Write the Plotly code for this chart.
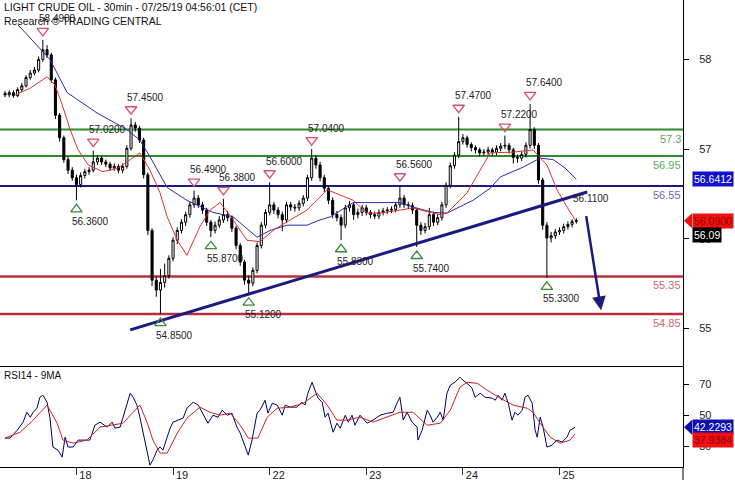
import plotly.graph_objects as go

# ---------------- data ----------------
title_line1 = "LIGHT CRUDE OIL - 30min - 07/25/19 04:56:01 (CET)"
title_line2 = "Research © TRADING CENTRAL"
rsi_title = "RSI14 - 9MA"

day_labels = ["18", "19", "22", "23", "24", "25"]
day_start_bar = [17, 40, 63, 86, 109, 132]

bar_open = [57.78, 57.76, 57.79, 57.75, 57.83, 57.88, 57.99, 58.05, 58.09, 58.23,
            58.36, 58.29, 57.96, 57.49, 57.19, 56.90, 56.76, 56.66, 56.57, 56.69,
            56.74, 56.76, 56.87, 56.92, 56.87, 56.84, 56.79, 56.81, 56.76, 56.81,
            57.05, 57.36, 57.32, 57.16, 56.70, 55.96, 55.30, 55.17, 55.27, 55.36,
            55.59, 55.83, 55.96, 56.07, 56.17, 56.30, 56.39, 56.30, 56.23, 56.07,
            55.96, 56.03, 56.10, 56.17, 56.13, 55.99, 55.76, 55.54, 55.30, 55.26,
            55.43, 55.76, 56.03, 56.20, 56.30, 56.23, 56.17, 56.10, 56.30, 56.27,
            56.26, 56.32, 56.39, 56.66, 56.92, 56.83, 56.66, 56.52, 56.36, 56.17,
            56.13, 56.03, 56.26, 56.30, 56.17, 56.20, 56.26, 56.20, 56.17, 56.15,
            56.20, 56.22, 56.23, 56.24, 56.30, 56.39, 56.30, 56.29, 56.23, 56.03,
            55.96, 56.01, 56.17, 56.07, 56.13, 56.30, 56.56, 56.82, 56.96, 57.14,
            57.19, 57.10, 57.06, 57.03, 56.99, 57.00, 57.03, 57.00, 57.05, 57.08,
            57.09, 57.03, 56.93, 56.92, 56.97, 57.09, 57.30, 57.09, 56.63, 56.03,
            55.86, 55.89, 55.94, 55.96, 56.01, 56.04, 56.08]
bar_high = [57.81, 57.82, 57.82, 57.86, 57.92, 58.02, 58.09, 58.13, 58.27, 58.49,
            58.42, 58.32, 57.99, 57.52, 57.22, 56.94, 56.80, 56.70, 56.73, 56.78,
            56.80, 57.02, 56.96, 56.95, 56.90, 56.87, 56.85, 56.84, 56.85, 57.09,
            57.45, 57.40, 57.35, 57.19, 56.73, 55.99, 55.35, 55.45, 55.52, 55.63,
            55.87, 56.00, 56.11, 56.21, 56.34, 56.49, 56.43, 56.34, 56.26, 56.10,
            56.08, 56.15, 56.38, 56.22, 56.16, 56.02, 55.79, 55.57, 55.36, 55.47,
            55.80, 56.07, 56.24, 56.60, 56.34, 56.27, 56.21, 56.34, 56.34, 56.31,
            56.36, 56.43, 56.70, 57.04, 56.96, 56.87, 56.70, 56.56, 56.40, 56.22,
            56.17, 56.30, 56.35, 56.34, 56.25, 56.30, 56.30, 56.23, 56.21, 56.24,
            56.26, 56.27, 56.28, 56.34, 56.56, 56.43, 56.34, 56.33, 56.26, 56.07,
            56.06, 56.26, 56.21, 56.18, 56.34, 56.60, 56.86, 57.00, 57.47, 57.24,
            57.22, 57.13, 57.09, 57.06, 57.04, 57.07, 57.06, 57.09, 57.12, 57.22,
            57.12, 57.06, 56.97, 57.01, 57.13, 57.64, 57.33, 57.12, 56.66, 56.07,
            55.94, 55.98, 56.00, 56.05, 56.08, 56.11, 56.12]
bar_low = [57.73, 57.73, 57.72, 57.73, 57.80, 57.86, 57.96, 58.02, 58.06, 58.20,
           58.25, 57.92, 57.44, 57.14, 56.86, 56.71, 56.62, 56.36, 56.53, 56.65,
           56.70, 56.73, 56.83, 56.83, 56.80, 56.75, 56.75, 56.72, 56.72, 56.78,
           57.02, 57.27, 57.12, 56.65, 55.90, 55.22, 55.08, 54.85, 55.20, 55.32,
           55.55, 55.78, 55.92, 56.02, 56.13, 56.26, 56.26, 56.18, 56.02, 55.87,
           55.92, 55.99, 56.06, 56.08, 55.94, 55.71, 55.49, 55.24, 55.12, 55.22,
           55.39, 55.72, 55.99, 56.16, 56.18, 56.12, 55.95, 56.06, 56.22, 56.21,
           56.22, 56.28, 56.35, 56.62, 56.78, 56.61, 56.47, 56.31, 56.12, 56.08,
           55.83, 55.99, 56.21, 56.10, 56.12, 56.15, 56.16, 56.12, 56.11, 56.11,
           56.16, 56.18, 56.19, 56.20, 56.26, 56.26, 56.24, 56.18, 55.74, 55.90,
           55.92, 55.97, 56.02, 56.03, 56.09, 56.26, 56.52, 56.78, 56.92, 57.10,
           57.06, 57.01, 56.98, 56.94, 56.95, 56.96, 56.95, 56.96, 57.01, 57.04,
           56.98, 56.85, 56.86, 56.88, 56.93, 57.05, 57.04, 56.58, 55.97, 55.33,
           55.80, 55.85, 55.90, 55.92, 55.97, 56.00, 56.05]
bar_close = [57.76, 57.79, 57.75, 57.83, 57.88, 57.99, 58.05, 58.09, 58.23, 58.36,
             58.29, 57.96, 57.49, 57.19, 56.90, 56.76, 56.66, 56.57, 56.69, 56.74,
             56.76, 56.87, 56.92, 56.87, 56.84, 56.79, 56.81, 56.76, 56.81, 57.05,
             57.36, 57.32, 57.16, 56.70, 55.96, 55.30, 55.17, 55.27, 55.36, 55.59,
             55.83, 55.96, 56.07, 56.17, 56.30, 56.39, 56.30, 56.23, 56.07, 55.96,
             56.03, 56.10, 56.17, 56.13, 55.99, 55.76, 55.54, 55.30, 55.26, 55.43,
             55.76, 56.03, 56.20, 56.30, 56.23, 56.17, 56.10, 56.30, 56.27, 56.26,
             56.32, 56.39, 56.66, 56.92, 56.83, 56.66, 56.52, 56.36, 56.17, 56.13,
             56.03, 56.26, 56.30, 56.17, 56.20, 56.26, 56.20, 56.17, 56.15, 56.20,
             56.22, 56.23, 56.24, 56.30, 56.39, 56.30, 56.29, 56.23, 56.03, 55.96,
             56.01, 56.17, 56.07, 56.13, 56.30, 56.56, 56.82, 56.96, 57.14, 57.19,
             57.10, 57.06, 57.03, 56.99, 57.00, 57.03, 57.00, 57.05, 57.08, 57.09,
             57.03, 56.93, 56.92, 56.97, 57.09, 57.30, 57.09, 56.63, 56.03, 55.86,
             55.89, 55.94, 55.96, 56.01, 56.04, 56.08, 56.09]
bars = list(range(len(bar_close)))

ma_fast_idx = [2.4, 6.0, 10.0, 11.9, 13.6, 15.5, 17.4, 19.8, 23.3, 26.9, 29.8, 32.1, 34.5,
               36.9, 38.6, 41.0, 43.3, 46.4, 48.8, 51.2, 54.3, 57.6, 60.7, 63.8, 67.9, 71.9,
               76.7, 79.8, 82.9, 86.2, 89.3, 94.0, 97.1, 100.5, 103.6, 105.2, 110.0, 113.1,
               115.5, 121.0, 125.7, 129.0, 131.4, 133.8, 135.7]
ma_fast_val = [57.76, 57.85, 58.00, 57.89, 57.63, 57.30, 57.03, 56.83, 56.74, 56.79, 56.90,
               56.99, 56.76, 56.46, 56.14, 55.83, 55.63, 56.01, 56.23, 56.33, 56.10, 55.83,
               55.81, 55.96, 56.10, 56.23, 56.50, 56.43, 56.36, 56.19, 56.19, 56.23, 56.26,
               56.21, 56.17, 56.19, 56.46, 56.76, 56.99, 57.00, 57.03, 56.83, 56.50, 56.27,
               56.10]
ma_slow_idx = [3.1, 10.7, 14.8, 21.9, 29.0, 32.1, 34.5, 38.6, 43.3, 49.5, 54.3, 60.0, 63.1,
               67.1, 71.9, 75.0, 77.4, 82.9, 87.6, 94.0, 97.1, 101.9, 105.2, 111.4, 115.5,
               117.9, 123.3, 127.4, 130.5, 133.3, 136.0]
ma_slow_val = [58.69, 58.23, 57.79, 57.52, 57.30, 57.16, 56.94, 56.53, 56.36, 56.20, 56.14,
               55.87, 55.96, 56.03, 56.03, 56.10, 56.14, 56.33, 56.33, 56.33, 56.27, 56.20,
               56.19, 56.36, 56.52, 56.67, 56.80, 56.92, 56.90, 56.79, 56.64]

rsi_idx = [0, 1.2, 2.9, 4.3, 5.2, 6.0, 6.7, 7.6, 8.3, 9.0,
           10.0, 10.7, 11.4, 12.6, 13.6, 14.3, 15.0, 16.2, 17.4, 19.0,
           20.2, 21.4, 22.6, 24.3, 25.5, 26.2, 27.4, 28.1, 29.0, 29.8,
           30.5, 31.4, 32.1, 32.9, 33.8, 34.5, 35.2, 36.2, 36.9, 37.6,
           38.6, 39.3, 40.0, 41.2, 42.4, 43.3, 44.8, 46.0, 47.1, 48.3,
           49.5, 50.7, 51.7, 52.9, 54.0, 55.2, 56.0, 57.1, 57.9, 58.8,
           60.0, 60.7, 61.9, 62.6, 63.6, 64.8, 66.0, 66.7, 67.9, 69.5,
           70.7, 71.4, 72.1, 73.1, 73.8, 74.5, 75.5, 76.2, 76.9, 78.1,
           79.0, 79.8, 81.0, 81.7, 82.6, 83.3, 84.5, 86.2, 87.6, 89.3,
           91.0, 92.4, 93.3, 94.0, 94.8, 95.7, 96.9, 98.1, 98.3, 99.3,
           100.5, 101.2, 101.9, 102.9, 103.6, 104.3, 105.2, 106.0, 107.1, 108.3,
           109.0, 110.0, 111.2, 111.9, 113.1, 114.3, 116.0, 116.7, 117.4, 118.3,
           119.0, 119.8, 120.7, 121.4, 122.1, 123.1, 123.8, 124.5, 125.5, 126.2,
           126.7, 127.4, 128.1, 129.0, 130.2, 131.4, 132.6, 133.8, 134.5, 135.7]
rsi_val = [35.2, 35.2, 40.3, 45.5, 51.9, 48.7, 51.9, 54.5, 61.6, 62.9,
           58.4, 48.1, 29.4, 27.4, 22.9, 35.8, 29.4, 29.4, 33.9, 33.9,
           33.9, 43.5, 45.5, 42.3, 45.5, 41.6, 42.3, 48.7, 57.7, 64.2,
           61.6, 56.5, 48.7, 38.4, 27.4, 17.7, 21.0, 27.4, 29.4, 27.4,
           35.8, 41.6, 45.5, 46.8, 48.1, 54.5, 58.4, 56.5, 51.3, 44.8,
           50.0, 48.7, 53.2, 50.0, 51.3, 42.3, 38.4, 30.6, 24.2, 33.9,
           51.3, 53.2, 59.7, 51.3, 57.7, 56.5, 50.0, 56.5, 55.2, 55.2,
           58.4, 56.5, 64.2, 71.3, 66.1, 61.0, 58.4, 48.7, 51.3, 39.0,
           44.8, 41.6, 50.0, 45.5, 50.0, 43.5, 50.0, 44.8, 46.8, 50.0,
           51.3, 51.9, 57.7, 61.6, 46.8, 51.9, 45.5, 42.3, 33.9, 40.3,
           53.2, 50.0, 45.5, 48.7, 51.9, 46.8, 64.2, 69.4, 71.3, 74.5,
           72.6, 70.6, 67.4, 61.6, 64.2, 61.6, 61.0, 59.7, 62.9, 59.7,
           64.2, 57.7, 46.8, 51.9, 50.0, 53.2, 61.6, 62.9, 57.7, 40.3,
           35.8, 48.7, 42.3, 29.4, 30.6, 33.9, 32.6, 35.8, 40.3, 42.2]
rsi_ma_idx = [0, 3.6, 6.7, 10.0, 12.4, 13.8, 16.2, 19.5, 22.6, 25.7,
              28.1, 30.5, 32.1, 33.8, 35.2, 36.9, 38.6, 41.0, 43.3, 46.4,
              48.8, 51.2, 53.6, 56.0, 57.9, 60.2, 62.4, 64.8, 67.9, 71.0,
              74.3, 76.7, 79.0, 81.4, 84.5, 87.6, 91.0, 94.0, 97.1, 100.5,
              103.6, 106.0, 108.3, 110.0, 112.4, 114.8, 117.9, 121.0, 124.3, 125.7,
              127.4, 129.8, 132.1, 134.5, 135.7]
rsi_ma_val = [35.2, 39.0, 46.8, 56.5, 44.8, 33.9, 31.9, 33.9, 42.3, 43.5,
              44.8, 51.9, 56.5, 45.5, 33.9, 25.5, 25.5, 38.4, 48.1, 55.2,
              51.9, 50.0, 51.3, 43.5, 35.2, 35.2, 48.7, 54.5, 55.2, 57.7,
              64.2, 56.5, 46.8, 46.8, 48.7, 45.5, 48.7, 51.9, 51.9, 43.5,
              44.8, 53.2, 68.1, 71.3, 70.6, 66.1, 61.0, 56.5, 54.5, 51.9,
              44.8, 35.8, 31.9, 33.9, 37.9]

level_values = [57.3, 56.95, 56.55, 55.35, 54.85]
level_labels = ["57.3", "56.95", "56.55", "55.35", "54.85"]

swing_high_bar = [9, 21, 30, 45, 52, 63, 73, 94, 108, 119, 125]
swing_high_val = [58.49, 57.02, 57.45, 56.49, 56.38, 56.60, 57.04, 56.56, 57.47, 57.22, 57.64]
swing_low_bar = [17, 37, 49, 58, 80, 98, 129]
swing_low_val = [56.36, 54.85, 55.87, 55.12, 55.83, 55.74, 55.33]

trend_x = [29.8, 138.6]
trend_y = [54.64, 56.47]
trend_label = 56.11
target_from = (138.3, 56.17)
target_to = (141.9, 54.90)

last_price = 56.09
ma_slow_last = 56.6412
rsi_last = 42.2293
rsi_ma_last = 37.9384

price_tick_pos = [58.23, 57.04, 55.85, 54.66]
price_tick_text = ["58", "57", "56", "55"]
rsi_tick_vals = [70, 50, 30]

# ---------------- styling ----------------
FONT = "Liberation Sans"
NAVY = "#1a1a80"
GREEN = "#2f8a2f"
RED = "#b8303c"
x_range = [-1.2, 161.4]
y_range = [54.16, 59.02]
rsi_range = [16.5, 81.8]
plot_w, plot_h = 683, 467
main_h = 366
split = (plot_h - main_h) / plot_h
px_per_unit = main_h / (y_range[1] - y_range[0])

fig = go.Figure()

fig.add_trace(go.Candlestick(
    x=bars, open=bar_open, high=bar_high, low=bar_low, close=bar_close,
    increasing=dict(line=dict(color="black", width=1), fillcolor="white"),
    decreasing=dict(line=dict(color="black", width=1), fillcolor="black"),
    whiskerwidth=0, hoverinfo="skip", xaxis="x", yaxis="y"))

fig.add_trace(go.Scatter(x=ma_slow_idx, y=ma_slow_val, mode="lines",
                         line=dict(color="#2a2ab0", width=1), xaxis="x", yaxis="y",
                         hoverinfo="skip"))
fig.add_trace(go.Scatter(x=ma_fast_idx, y=ma_fast_val, mode="lines",
                         line=dict(color="#e03030", width=1), xaxis="x", yaxis="y",
                         hoverinfo="skip"))
fig.add_trace(go.Scatter(x=trend_x, y=trend_y, mode="lines",
                         line=dict(color=NAVY, width=3), xaxis="x", yaxis="y",
                         hoverinfo="skip"))

pad = 9 / px_per_unit
fig.add_trace(go.Scatter(x=swing_high_bar, y=[v + pad for v in swing_high_val], mode="markers",
                         marker=dict(symbol="triangle-down-open", size=10, color="#d8506e",
                                     line=dict(width=1.3, color="#d8506e")),
                         xaxis="x", yaxis="y", hoverinfo="skip"))
fig.add_trace(go.Scatter(x=swing_low_bar, y=[v - pad for v in swing_low_val], mode="markers",
                         marker=dict(symbol="triangle-up-open", size=10, color="#3a8a3a",
                                     line=dict(width=1.3, color="#3a8a3a")),
                         xaxis="x", yaxis="y", hoverinfo="skip"))

fig.add_trace(go.Scatter(x=rsi_idx, y=rsi_val, mode="lines",
                         line=dict(color="#000066", width=1), xaxis="x2", yaxis="y2",
                         hoverinfo="skip"))
fig.add_trace(go.Scatter(x=rsi_ma_idx, y=rsi_ma_val, mode="lines",
                         line=dict(color="#cc2222", width=1), xaxis="x2", yaxis="y2",
                         hoverinfo="skip"))

shapes = []
level_line_colors = [GREEN, GREEN, NAVY, RED, RED]
level_text_colors = ["#5fa55f", "#5fa55f", "#6a6ab8", "#d06868", "#d06868"]
level_widths = [2, 2, 2, 2.5, 2.5]
annotations = []
for v, lab, lc, tc, lw in zip(level_values, level_labels, level_line_colors,
                              level_text_colors, level_widths):
    shapes.append(dict(type="line", xref="paper", yref="y", x0=0, x1=1, y0=v, y1=v,
                       line=dict(color=lc, width=lw), layer="below"))
    annotations.append(dict(xref="paper", yref="y", x=1, y=v, xanchor="right",
                            yanchor="top", yshift=-1, text=lab, showarrow=False,
                            font=dict(family=FONT, size=11, color=tc)))

for b, v in zip(swing_high_bar, swing_high_val):
    annotations.append(dict(x=b, y=v, xref="x", yref="y", text=f"{v:.4f}", showarrow=False,
                            xanchor="left", yanchor="middle", xshift=-6, yshift=21,
                            font=dict(family=FONT, size=10, color="#222")))
for b, v in zip(swing_low_bar, swing_low_val):
    annotations.append(dict(x=b, y=v, xref="x", yref="y", text=f"{v:.4f}", showarrow=False,
                            xanchor="left", yanchor="middle", xshift=-6, yshift=-21,
                            font=dict(family=FONT, size=10, color="#222")))
annotations.append(dict(x=trend_x[1], y=trend_y[1], xref="x", yref="y",
                        text=f"{trend_label:.4f}", showarrow=False, xanchor="left",
                        yanchor="middle", xshift=-16, yshift=-6,
                        font=dict(family=FONT, size=10, color="#222")))

annotations.append(dict(x=target_to[0], y=target_to[1], ax=target_from[0], ay=target_from[1],
                        xref="x", yref="y", axref="x", ayref="y", text="", showarrow=True,
                        arrowhead=2, arrowsize=1.1, arrowwidth=2.5, arrowcolor=NAVY))

annotations.append(dict(xref="paper", yref="paper", x=0, y=1, xanchor="left", yanchor="top",
                        xshift=2, yshift=1, showarrow=False,
                        text=title_line1 + "<br>" + title_line2, align="left",
                        font=dict(family=FONT, size=10.5, color="#111")))
annotations.append(dict(xref="paper", yref="paper", x=0, y=split, xanchor="left",
                        yanchor="top", xshift=2, yshift=-2, showarrow=False, text=rsi_title,
                        font=dict(family=FONT, size=10, color="#111")))

# value boxes in the right margin
bx = 692 / plot_w
tip = 684 / plot_w


def value_box(y, yref, text, bg, fg, yshift=0, arrow=False, unit_px=1.0):
    annotations.append(dict(xref="paper", yref=yref, x=bx, y=y, xanchor="left",
                            yanchor="middle", yshift=yshift, text=text, showarrow=False,
                            bgcolor=bg, borderpad=1,
                            font=dict(family=FONT, size=10.5, color=fg)))
    if arrow:
        h = 7.5 / unit_px
        yc = y + yshift / unit_px
        shapes.append(dict(type="path", xref="paper", yref=yref,
                           path=f"M {tip},{yc} L {bx},{yc + h} L {bx},{yc - h} Z",
                           fillcolor=bg, line=dict(width=0)))


rsi_px_per_unit = (plot_h - main_h) / (rsi_range[1] - rsi_range[0])
value_box(ma_slow_last, "y", f"{ma_slow_last:.4f}", "#1010d0", "white")
value_box(last_price, "y", f"{last_price:.4f}", "#ee1111", "#990000", arrow=True,
          unit_px=px_per_unit)
value_box(last_price, "y", f"{last_price:.2f}", "black", "white", yshift=-14)
value_box(rsi_last, "y2", f"{rsi_last:.4f}", "#1010b0", "white", arrow=True,
          unit_px=rsi_px_per_unit)
value_box(rsi_ma_last, "y2", f"{rsi_ma_last:.4f}", "#ee1111", "#990000", yshift=-6)

shapes.append(dict(type="line", xref="paper", yref="paper", x0=1, x1=1, y0=-13 / plot_h,
                   y1=0, line=dict(color="black", width=1)))

axis_font = dict(family=FONT, size=11, color="#222")
fig.update_layout(
    width=735, height=480,
    margin=dict(l=0, r=735 - plot_w, t=0, b=480 - plot_h),
    paper_bgcolor="white", plot_bgcolor="white",
    showlegend=False,
    xaxis=dict(domain=[0, 1], range=x_range, anchor="y", showticklabels=False,
               showgrid=False, zeroline=False, showline=True, linecolor="black",
               linewidth=1, ticks="", rangeslider=dict(visible=False)),
    xaxis2=dict(domain=[0, 1], range=x_range, anchor="y2", matches="x",
                tickmode="array", tickvals=day_start_bar, ticktext=day_labels,
                ticks="outside", ticklen=7, tickcolor="#333", showgrid=False,
                zeroline=False, showline=True, linecolor="black", linewidth=1,
                tickfont=axis_font, ticklabelshift=9, ticklabelstandoff=-9),
    yaxis=dict(domain=[split, 1], range=y_range, anchor="x", side="right",
               tickmode="array", tickvals=price_tick_pos, ticktext=price_tick_text,
               ticks="outside", ticklen=5, tickcolor="black", showgrid=False,
               zeroline=False, showline=True, linecolor="black", linewidth=1,
               tickfont=axis_font, ticklabelstandoff=8),
    yaxis2=dict(domain=[0, split], range=rsi_range, anchor="x2", side="right",
                tickmode="array", tickvals=rsi_tick_vals,
                ticks="outside", ticklen=5, tickcolor="black", showgrid=False,
                zeroline=False, showline=True, linecolor="black", linewidth=1,
                tickfont=axis_font, ticklabelstandoff=8),
    shapes=shapes,
    annotations=annotations,
)

fig.write_html("out.html", config={"displayModeBar": False},
               post_script="document.body.style.margin='0';document.body.style.overflow='hidden';")
